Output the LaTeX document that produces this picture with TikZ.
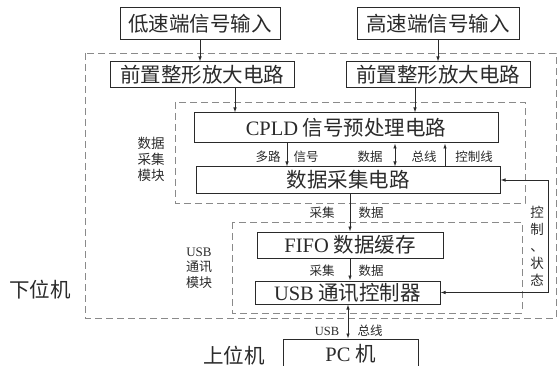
\documentclass[tikz,border=0pt]{standalone}
\usepackage{fontspec}
\setmainfont{Liberation Serif}
\newfontfamily\cjk{Noto Sans CJK SC}
\usetikzlibrary{arrows.meta}
\definecolor{ink}{HTML}{2A2A2A}
\definecolor{frame}{HTML}{8A8A8A}
\tikzset{
  blk/.style={draw=ink, line width=1pt, text=ink, inner sep=0pt, font=\cjk\fontsize{20.5}{24}\selectfont},
  module/.style={draw=frame, line width=0.8pt, dash pattern=on 7pt off 4pt},
  arr/.style={-{Latex[length=5pt,width=3.5pt]}, draw=ink, line width=0.8pt},
  darr/.style={{Latex[length=5pt,width=3.5pt]}-{Latex[length=5pt,width=3.5pt]}, draw=ink, line width=0.8pt},
  lab/.style={text=ink, font=\cjk\fontsize{12.5}{14}\selectfont, inner sep=0pt},
  side/.style={text=ink, font=\cjk\fontsize{13.5}{16}\selectfont, align=center, inner sep=0pt},
  big/.style={text=ink, font=\cjk\fontsize{20.5}{24}\selectfont, inner sep=0pt}
}

\begin{document}
\begin{tikzpicture}[x=1pt,y=-1pt]
  \useasboundingbox (0,0) rectangle (559,366);

  % module frames
  \draw[module] (85,53) rectangle (556,318);
  \draw[module] (175,102) rectangle (525,203);
  \draw[module] (232,222) rectangle (522,313);

  % blocks
  \node[blk, minimum width=160pt, minimum height=32pt] (inlow) at (200,24) {低速端信号输入};
  \node[blk, minimum width=162pt, minimum height=32pt] (inhigh) at (438,24) {高速端信号输入};
  \node[blk, minimum width=184pt, minimum height=26pt] (prel) at (202,75) {前置整形放大电路};
  \node[blk, minimum width=184pt, minimum height=26pt] (preh) at (438,75) {前置整形放大电路};
  \node[blk, minimum width=304pt, minimum height=30pt] (cpld) at (346,128) {{\rmfamily CPLD} 信号预处理电路};
  \node[blk, minimum width=304pt, minimum height=26pt] (daq) at (348,180) {数据采集电路};
  \node[blk, minimum width=186pt, minimum height=26pt] (fifo) at (350,245) {{\rmfamily FIFO} 数据缓存};
  \node[blk, minimum width=185pt, minimum height=23pt] (usbc) at (347.5,292.5) {{\rmfamily USB} 通讯控制器};
  \node[blk, minimum width=135pt, minimum height=30pt] (pc) at (350.5,354) {{\rmfamily PC} 机};

  % taps for the vertical links
  \coordinate (tpl) at (235,0);
  \coordinate (tph) at (415,0);
  \coordinate (tsig) at (287,0);
  \coordinate (tbus) at (395,0);
  \coordinate (tctl) at (445,0);
  \coordinate (tdat) at (350,0);
  \coordinate (tusb) at (348,0);
  \coordinate (loop) at (548,0);

  % signal path
  \draw[arr] (inlow.south) -- (inlow.south |- prel.north);
  \draw[arr] (inhigh.south) -- (inhigh.south |- preh.north);
  \draw[arr] (prel.south -| tpl) -- (cpld.north -| tpl);
  \draw[arr] (preh.south -| tph) -- (cpld.north -| tph);
  \draw[arr] (cpld.south -| tsig) -- (daq.north -| tsig);
  \draw[darr] (cpld.south -| tbus) -- (daq.north -| tbus);
  \draw[arr] (daq.north -| tctl) -- (cpld.south -| tctl);
  \draw[arr] (daq.south -| tdat) -- (fifo.north -| tdat);
  \draw[arr] (fifo.south -| tdat) -- (usbc.north -| tdat);
  \draw[darr] (usbc.south -| tusb) -- (pc.north -| tusb);
  \draw[darr] (daq.east) -- (daq.east -| loop) |- (usbc.east);

  % link labels
  \node[lab] (l1) at (268,157) {多路};
  \node[lab] (l2) at (306,157) {信号};
  \node[lab] (l3) at (370,157) {数据};
  \node[lab] (l4) at (424,157) {总线};
  \node[lab] (l5) at (474,157) {控制线};
  \node[lab] (l6) at (322,213) {采集};
  \node[lab] (l7) at (371,213) {数据};
  \node[lab] (l8) at (322,271) {采集};
  \node[lab] (l9) at (371,271) {数据};
  \node[lab, font=\fontsize{12.5}{14}\selectfont] (l10) at (327,331) {USB};
  \node[lab] (l11) at (370,331) {总线};
  \node[lab, align=center, font=\cjk\fontsize{13.5}{17}\selectfont] (l12) at (537,246) {控\\制\\、\\状\\态};

  % module names
  \node[side] (mdaq) at (151,159) {数据\\采集\\模块};
  \node[side, font=\cjk\fontsize{13}{15.5}\selectfont] (musb) at (199,268) {{\rmfamily USB}\\通讯\\模块};
  \node[big] (lower) at (40,290) {下位机};
  \node[big] (upper) at (234,356) {上位机};
\end{tikzpicture}
\end{document}
